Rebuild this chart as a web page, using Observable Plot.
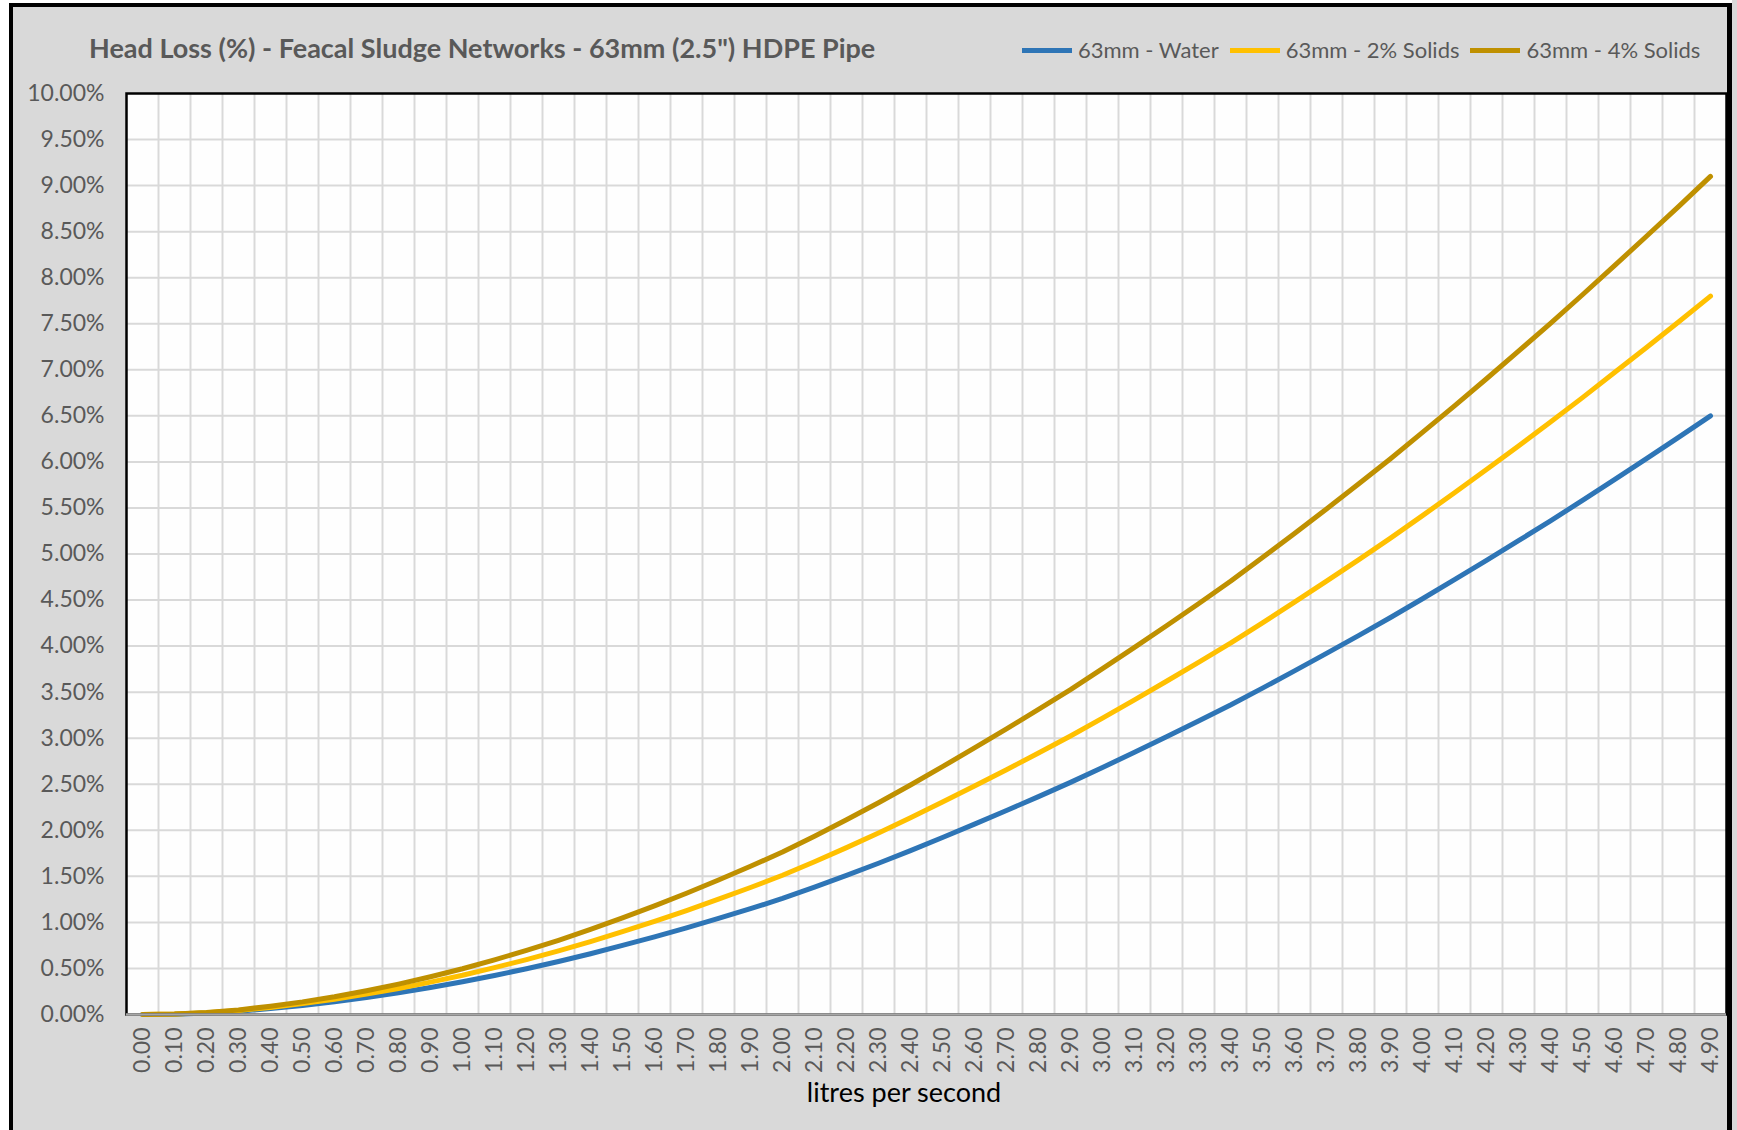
<!DOCTYPE html>
<html>
<head>
<meta charset="utf-8">
<script src="https://cdn.jsdelivr.net/npm/d3@7"></script>
<script src="https://cdn.jsdelivr.net/npm/@observablehq/plot@0.6"></script>
<style>
  html, body { margin: 0; padding: 0; background: #ffffff; overflow: hidden; }
  #page { position: relative; width: 1737px; height: 1130px; }
  #outer { position: absolute; left: 9px; top: 3px; width: 1723px; height: 1200px; box-sizing: border-box;
           background: #d9d9d9; border-left: 4px solid #000; border-top: 4px solid #000; border-right: 5px solid #000; }
  #strip { position: absolute; left: 1732px; top: 0; width: 5px; height: 1130px; background: #d9d9d9; }
  #chart { position: absolute; left: 0; top: 0; }
  #title { position: absolute; left: 89px; top: 32px; font-family: Lato, sans-serif; font-weight: bold; font-size: 27px;
           line-height: 32px; color: #595959; white-space: nowrap; }
  #legend { position: absolute; left: 1022px; top: 36px; display: flex; align-items: center; font-family: Lato, sans-serif;
            font-size: 22px; line-height: 28px; color: #595959; white-space: nowrap; }
  .item { display: flex; align-items: center; margin-right: 11px; }
  .sw { width: 50px; height: 5px; margin-right: 6px; }
  #xtitle { position: absolute; left: 904px; top: 1076px; transform: translateX(-50%); font-family: Lato, sans-serif;
            font-size: 27px; line-height: 32px; color: #000; white-space: nowrap; }
</style>
</head>
<body>
<div id="page">
  <div id="outer"></div>
  <div id="strip"></div>
  <div id="chart"></div>
  <div id="title"></div>
  <div id="legend"></div>
  <div id="xtitle"></div>
</div>
<script>
const titleText = "Head Loss (%) - Feacal Sludge Networks - 63mm (2.5\") HDPE Pipe";
const xTitle = "litres per second";

// category (flow, l/s) tick labels
const flowLabels = ["0.00","0.10","0.20","0.30","0.40","0.50","0.60","0.70","0.80","0.90",
  "1.00","1.10","1.20","1.30","1.40","1.50","1.60","1.70","1.80","1.90",
  "2.00","2.10","2.20","2.30","2.40","2.50","2.60","2.70","2.80","2.90",
  "3.00","3.10","3.20","3.30","3.40","3.50","3.60","3.70","3.80","3.90",
  "4.00","4.10","4.20","4.30","4.40","4.50","4.60","4.70","4.80","4.90"];

// head loss (%) per series
const water = [0.000,0.004,0.016,0.036,0.064,0.098,0.138,0.184,0.236,0.293,
  0.355,0.424,0.497,0.576,0.660,0.750,0.843,0.941,1.043,1.149,
  1.260,1.382,1.510,1.642,1.780,1.922,2.067,2.215,2.366,2.520,
  2.682,2.847,3.015,3.186,3.360,3.544,3.731,3.921,4.114,4.310,
  4.514,4.721,4.931,5.144,5.360,5.582,5.808,6.036,6.266,6.500];
const solids2 = [0.000,0.005,0.019,0.043,0.077,0.118,0.166,0.221,0.283,0.352,
  0.426,0.509,0.596,0.691,0.792,0.900,1.012,1.129,1.252,1.379,
  1.512,1.658,1.812,1.970,2.136,2.306,2.480,2.658,2.839,3.024,
  3.218,3.416,3.618,3.823,4.032,4.253,4.477,4.705,4.937,5.172,
  5.417,5.665,5.917,6.173,6.432,6.698,6.970,7.243,7.519,7.800];
const solids4 = [0.000,0.006,0.022,0.050,0.090,0.137,0.193,0.258,0.330,0.410,
  0.497,0.594,0.696,0.806,0.924,1.050,1.180,1.317,1.460,1.609,
  1.764,1.935,2.114,2.299,2.492,2.691,2.894,3.101,3.312,3.528,
  3.755,3.986,4.221,4.460,4.704,4.962,5.223,5.489,5.760,6.034,
  6.320,6.609,6.903,7.202,7.504,7.815,8.131,8.450,8.772,9.100];

const seriesNames = ["63mm - Water", "63mm - 2% Solids", "63mm - 4% Solids"];
const seriesColors = ["#2E75B6", "#FFC000", "#BF9000"];
const yTicks = [0,0.5,1,1.5,2,2.5,3,3.5,4,4.5,5,5.5,6,6.5,7,7.5,8,8.5,9,9.5,10];

const flows = flowLabels.map(Number);
const seriesValues = [water, solids2, solids4];
const rows = [];
seriesValues.forEach((vals, s) => vals.forEach((v, i) => rows.push({x: flows[i], y: v, s: seriesNames[s]})));
const half = (flows[1] - flows[0]) / 2;
const gridX = flows.slice(0, -1).map(f => f + half);

const chart = Plot.plot({
  width: 1737, height: 1130,
  marginLeft: 126, marginRight: 11, marginTop: 93, marginBottom: 116,
  style: {background: "transparent", fontFamily: "Lato, sans-serif", fontSize: "23px", color: "#595959", overflow: "visible"},
  x: {domain: [flows[0] - half, flows[flows.length - 1] + half]},
  y: {domain: [0, 10]},
  color: {domain: seriesNames, range: seriesColors},
  marks: [
    Plot.frame({fill: "#fefefe", stroke: null}),
    Plot.ruleX(gridX, {stroke: "#d9d9d9", strokeWidth: 2}),
    Plot.ruleY(yTicks.slice(1, -1), {stroke: "#d9d9d9", strokeWidth: 2}),
    Plot.line(rows, {x: "x", y: "y", z: "s", stroke: "s", strokeWidth: 5, strokeLinejoin: "round"}),
    Plot.frame({stroke: "#000", strokeWidth: 2.5}),
    Plot.ruleY([0], {stroke: "#a6a6a6", strokeWidth: 2.5}),
    Plot.axisY(yTicks, {tickSize: 0, tickPadding: 22, tickFormat: d => d.toFixed(2) + "%", label: null}),
    Plot.axisX(flows, {tickSize: 0, tickPadding: 13, tickRotate: -90, tickFormat: (d, i) => flowLabels[i], label: null})
  ]
});
document.getElementById("chart").appendChild(chart);

document.getElementById("title").textContent = titleText;
document.getElementById("xtitle").textContent = xTitle;
const legend = document.getElementById("legend");
seriesNames.forEach((n, i) => {
  const it = document.createElement("div");
  it.className = "item";
  const sw = document.createElement("div");
  sw.className = "sw";
  sw.style.background = seriesColors[i];
  const tx = document.createElement("span");
  tx.textContent = n;
  it.appendChild(sw); it.appendChild(tx);
  legend.appendChild(it);
});
</script>
</body>
</html>
